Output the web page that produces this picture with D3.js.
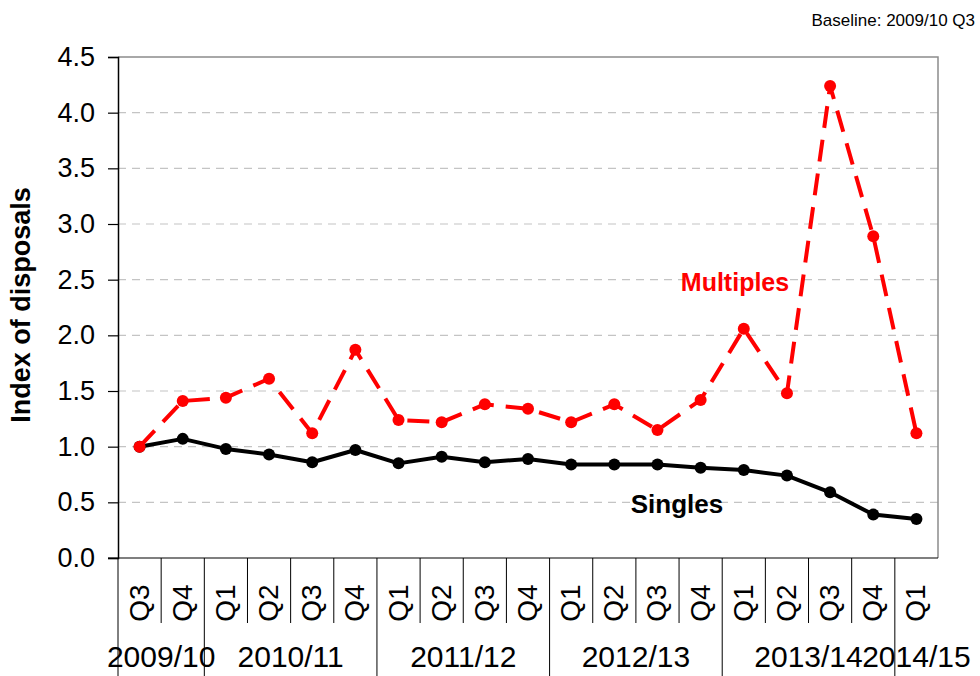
<!DOCTYPE html>
<html>
<head>
<meta charset="utf-8">
<script src="https://cdn.jsdelivr.net/npm/d3@7"></script>
<style>
  body { margin: 0; background: #fff; }
  text { font-family: Arial, "Liberation Sans", sans-serif; }
</style>
</head>
<body>
<div class="my_dataviz"></div>
<script>
// quarters and the financial year each one belongs to
const quarters = ["Q3", "Q4", "Q1", "Q2", "Q3", "Q4", "Q1", "Q2", "Q3", "Q4",
                  "Q1", "Q2", "Q3", "Q4", "Q1", "Q2", "Q3", "Q4", "Q1"]
const years = ["2009/10", "2010/11", "2011/12", "2012/13", "2013/14", "2014/15"]
const yearSpans = [2, 4, 4, 4, 4, 1]

const singles = [1.0, 1.07, 0.98, 0.93, 0.86, 0.97, 0.85, 0.91, 0.86, 0.89,
                 0.84, 0.84, 0.84, 0.81, 0.79, 0.74, 0.59, 0.39, 0.35]
const multiples = [1.0, 1.41, 1.44, 1.61, 1.12, 1.87, 1.24, 1.22, 1.38, 1.34,
                   1.22, 1.38, 1.15, 1.42, 2.06, 1.48, 4.24, 2.89, 1.12]

const yTicks = [0, 0.5, 1.0, 1.5, 2.0, 2.5, 3.0, 3.5, 4.0, 4.5]

let margin = {top: 57, right: 42, bottom: 118, left: 118},
    width = 980 - margin.left - margin.right,
    height = 676 - margin.top - margin.bottom;

let svg = d3.select(".my_dataviz")
            .append("svg")
            .attr("width", 980)
            .attr("height", 676)

let g = svg.append("g")
           .attr("transform", "translate(" + margin.left + "," + margin.top + ")");

let idx = quarters.map((q, i) => i)

let x = d3.scaleBand()
          .domain(idx)
          .range([0, width])

let y = d3.scaleLinear()
          .domain([0, 4.5])
          .range([height, 0]);

// gridlines
g.append("g")
 .selectAll("line")
 .data(yTicks.filter(d => d > 0 && d < 4.5))
 .enter()
 .append("line")
 .attr("x1", 0)
 .attr("x2", width)
 .attr("y1", d => y(d))
 .attr("y2", d => y(d))
 .style("stroke", "#c4c4c4")
 .style("stroke-width", 1.2)
 .style("stroke-dasharray", "8,6")

// plot border (top and right)
g.append("path")
 .attr("d", "M0," + y(4.5) + "H" + width + "V" + height)
 .style("fill", "none")
 .style("stroke", "#8c8c8c")
 .style("stroke-width", 1.5)

// y axis
let yAxis = g.append("g")
             .call(d3.axisLeft(y).tickValues(yTicks).tickFormat(d3.format(".1f")).tickSize(10).tickPadding(13))
yAxis.select(".domain").style("stroke", "#000").style("stroke-width", 1.5)
yAxis.selectAll(".tick line").style("stroke", "#000").style("stroke-width", 1.2)
yAxis.selectAll(".tick text")
     .style("font-size", "27px")
     .style("fill", "#000")

// x axis: baseline + category dividers
g.append("line")
 .attr("x1", -10)
 .attr("x2", width)
 .attr("y1", height)
 .attr("y2", height)
 .style("stroke", "#000")
 .style("stroke-width", 1.2)

let yearStarts = []
let acc = 0
yearSpans.forEach(function (s) { yearStarts.push(acc); acc += s })

g.append("g")
 .selectAll("line")
 .data(idx)
 .enter()
 .append("line")
 .attr("x1", d => x(d))
 .attr("x2", d => x(d))
 .attr("y1", height)
 .attr("y2", d => yearStarts.indexOf(d) >= 0 ? 676 - margin.top : height + 65)
 .style("stroke", "#000")
 .style("stroke-width", 1)

g.append("g")
 .selectAll("text")
 .data(idx)
 .enter()
 .append("text")
 .attr("transform", d => "translate(" + (x(d) + x.bandwidth() / 2 + 9) + "," + (height + 45) + ") rotate(-90)")
 .attr("text-anchor", "middle")
 .style("font-size", "28px")
 .text(d => quarters[d])

g.append("g")
 .selectAll("text")
 .data(years)
 .enter()
 .append("text")
 .attr("x", (d, i) => x(yearStarts[i]) + x.bandwidth() * yearSpans[i] / 2)
 .attr("y", height + 109)
 .attr("text-anchor", "middle")
 .style("font-size", "30px")
 .text(d => d)

// series
let line = d3.line()
             .x((d, i) => x(i) + x.bandwidth() / 2)
             .y(d => y(d))

g.append("path")
 .datum(singles)
 .attr("d", line)
 .style("fill", "none")
 .style("stroke", "#000")
 .style("stroke-width", 4)
 .style("stroke-linejoin", "round")

g.append("g")
 .selectAll("circle")
 .data(singles)
 .enter()
 .append("circle")
 .attr("cx", (d, i) => x(i) + x.bandwidth() / 2)
 .attr("cy", d => y(d))
 .attr("r", 6)
 .style("fill", "#000")

g.append("path")
 .datum(multiples)
 .attr("d", line)
 .style("fill", "none")
 .style("stroke", "#ff0000")
 .style("stroke-width", 4)
 .style("stroke-dasharray", "22,12")

g.append("g")
 .selectAll("circle")
 .data(multiples)
 .enter()
 .append("circle")
 .attr("cx", (d, i) => x(i) + x.bandwidth() / 2)
 .attr("cy", d => y(d))
 .attr("r", 6)
 .style("fill", "#ff0000")

// series labels
g.append("text")
 .attr("x", 735 - margin.left)
 .attr("y", 291 - margin.top)
 .attr("text-anchor", "middle")
 .style("font-size", "25px")
 .style("font-weight", "bold")
 .style("fill", "#ff0000")
 .text("Multiples")

g.append("text")
 .attr("x", 677 - margin.left)
 .attr("y", 513 - margin.top)
 .attr("text-anchor", "middle")
 .style("font-size", "26px")
 .style("font-weight", "bold")
 .style("fill", "#000")
 .text("Singles")

// axis title
svg.append("text")
   .attr("transform", "translate(30,305) rotate(-90)")
   .attr("text-anchor", "middle")
   .style("font-size", "27px")
   .style("font-weight", "bold")
   .text("Index of disposals")

svg.append("text")
   .attr("x", 975)
   .attr("y", 26)
   .attr("text-anchor", "end")
   .style("font-size", "17px")
   .text("Baseline: 2009/10 Q3")
</script>
</body>
</html>
